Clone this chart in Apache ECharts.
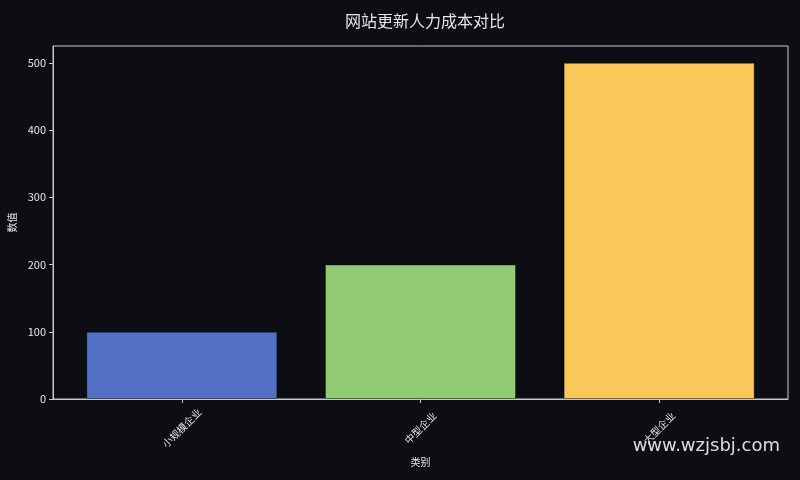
<!DOCTYPE html>
<html>
<head>
<meta charset="utf-8">
<script src="https://cdn.jsdelivr.net/npm/echarts@6/dist/echarts.min.js"></script>
<style>
html,body{margin:0;padding:0;background:#0c0e14;}
#main{width:800px;height:480px;}
</style>
</head>
<body>
<div id="main"></div>
<script>
var categories = ['小规模企业', '中型企业', '大型企业'];
var values = [100, 200, 500];
var barColors = ['#5470c6', '#91cc75', '#fac858'];
var yTicks = [0, 100, 200, 300, 400, 500];
var titleText = '网站更新人力成本对比';
var xName = '类别';
var yName = '数值';
var watermark = 'www.wzjsbj.com';

var textColor = '#e6e6e6';
var frameColor = '#c8c8c8';
var font = '"Noto Sans CJK SC", "DejaVu Sans", sans-serif';

var chart = echarts.init(document.getElementById('main'));
var seriesData = values.map(function (v, i) {
  return { value: [i, v], itemStyle: { color: barColors[i] } };
});
var xIdx = categories.map(function (c, i) { return i; });

chart.setOption({
  backgroundColor: '#0c0e14',
  animation: false,
  title: {
    text: titleText,
    left: 420,
    textAlign: 'center',
    top: 8,
    textStyle: { color: textColor, fontSize: 16, fontWeight: 'normal', fontFamily: font }
  },
  grid: { left: 53, right: 12, top: 46, bottom: 81, show: true, borderColor: frameColor, borderWidth: 1, outerBoundsMode: 'none', containLabel: false },
  xAxis: {
    type: 'value',
    min: -0.54,
    max: 2.54,
    name: xName,
    nameLocation: 'middle',
    nameGap: 58,
    nameTextStyle: { color: textColor, fontSize: 10, fontFamily: font },
    splitLine: { show: false },
    axisLine: { show: true, onZero: false, lineStyle: { color: frameColor } },
    axisTick: { show: true, customValues: xIdx, length: 4, lineStyle: { color: frameColor } },
    axisLabel: {
      customValues: xIdx,
      rotate: 45,
      align: 'center',
      verticalAlign: 'middle',
      margin: 29,
      color: textColor,
      fontSize: 10,
      fontFamily: font,
      formatter: function (v) { return categories[Math.round(v)] || ''; }
    }
  },
  yAxis: {
    type: 'value',
    min: 0,
    max: 525,
    name: yName,
    nameLocation: 'middle',
    nameGap: 36,
    nameTextStyle: { color: textColor, fontSize: 10, fontFamily: font },
    splitLine: { show: false },
    axisLine: { show: true, onZero: false, lineStyle: { color: frameColor } },
    axisTick: { show: true, customValues: yTicks, length: 4, lineStyle: { color: frameColor } },
    axisLabel: { customValues: yTicks, color: textColor, fontSize: 11, fontFamily: font, margin: 7 }
  },
  series: [{
    type: 'bar',
    data: seriesData,
    barWidth: 191,
    itemStyle: { borderColor: 'rgba(0,0,0,0.35)', borderWidth: 1 }
  }],
  graphic: [{
    type: 'text',
    right: 20,
    top: 437,
    style: { text: watermark, fill: 'rgba(255,255,255,0.85)', fontSize: 18, fontFamily: '"DejaVu Sans", sans-serif' }
  }]
});
</script>
</body>
</html>
